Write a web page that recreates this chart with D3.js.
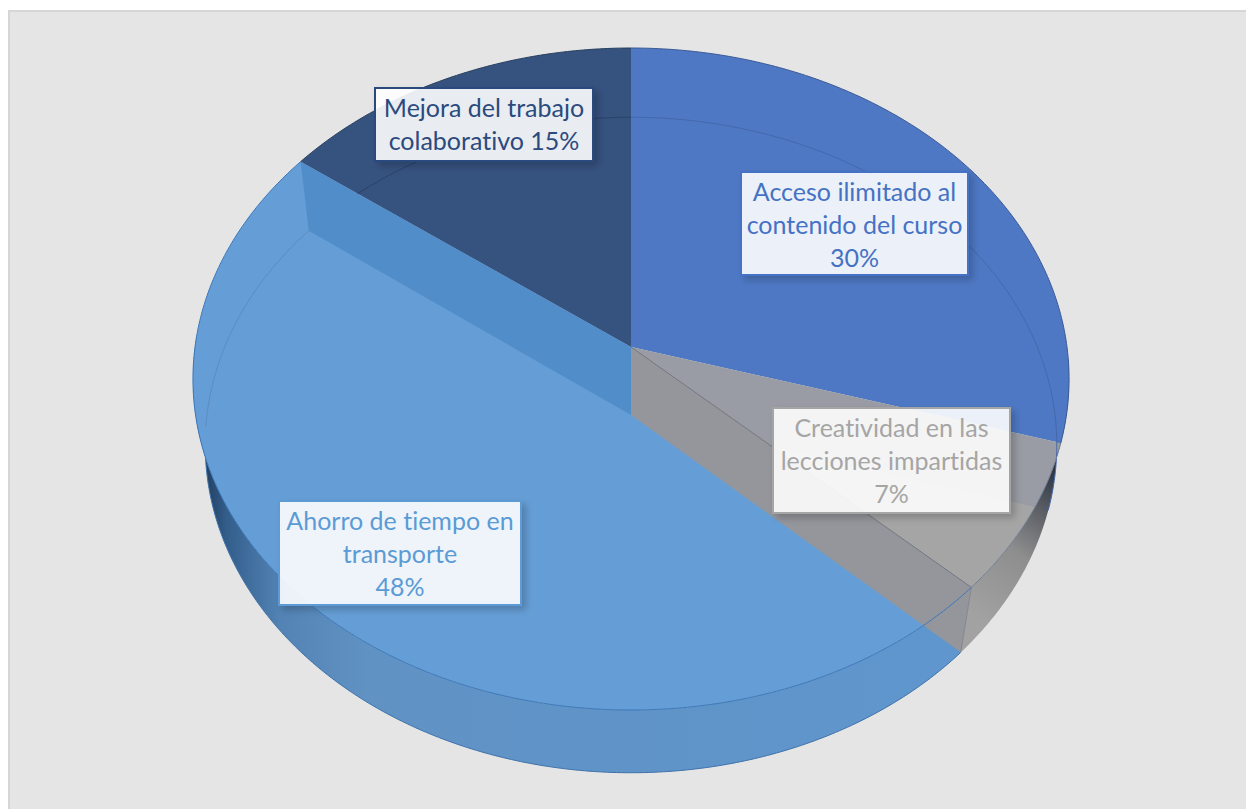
<!DOCTYPE html>
<html>
<head>
<meta charset="utf-8">
<script src="https://cdn.jsdelivr.net/npm/d3@7"></script>
<style>
  html, body { margin: 0; padding: 0; background: #fff; }
  svg { display: block; }
  text { font-family: Lato, "Open Sans", sans-serif; font-size: 25px; text-anchor: middle; font-variant-ligatures: none; }
</style>
</head>
<body>
<div id="chart"></div>
<script>
// clockwise from 12 o'clock, same order as the original
const categories = ["Acceso ilimitado al contenido del curso", "Creatividad en las lecciones impartidas", "Ahorro de tiempo en transporte", "Mejora del trabajo colaborativo"];
const percents = [29.6, 7.4, 48.2, 14.8];
const labelLines = [
  ["Acceso ilimitado al", "contenido del curso", "30%"],
  ["Creatividad en las", "lecciones impartidas", "7%"],
  ["Ahorro de tiempo en", "transporte", "48%"],
  ["Mejora del trabajo", "colaborativo 15%"]
];
const topColors = ["#4e78c4", "#a5a5a6", "#659ed6", "#36527f"];
const textColors = ["#4472c4", "#a5a5a5", "#5b9bd5", "#2b4a7e"];

// label boxes: x0, y0, x1, y1
const labelBoxes = [[741, 172, 968, 275], [773, 408, 1010, 513], [279, 501, 521, 605], [375, 88, 593, 161]];

const width = 1246, height = 809;

const svg = d3.select("#chart").append("svg")
  .attr("width", width)
  .attr("height", height);

const defs = svg.append("defs");

// side wall shading
function sideGradient(id, x1, y1, x2, y2, stops) {
  defs.append("linearGradient")
    .attr("id", id)
    .attr("gradientUnits", "userSpaceOnUse")
    .attr("x1", x1).attr("x2", x2).attr("y1", y1).attr("y2", y2)
    .selectAll("stop")
    .data(stops)
    .join("stop")
    .attr("offset", d => d[0])
    .attr("stop-color", d => d[1]);
}
sideGradient("blueSide", 192, 0, 1069, 0, [[0.01, "#203a58"], [0.04, "#335e8c"], [0.1, "#5283b4"], [0.2, "#6192c4"], [1, "#5e97cf"]]);
sideGradient("graySide", 965, 610, 1062, 470, [[0, "#a2a2a2"], [0.45, "#8e8e8e"], [0.72, "#5f6167"], [1, "#27303f"]]);

// drop shadow outside the box only, so the see-through fill stays clean
defs.append("filter")
  .attr("id", "shadow")
  .attr("x", "-10%").attr("y", "-15%").attr("width", "125%").attr("height", "140%")
  .call(f => {
    f.append("feGaussianBlur").attr("in", "SourceAlpha").attr("stdDeviation", 3.5).attr("result", "blur");
    f.append("feOffset").attr("in", "blur").attr("dx", 4).attr("dy", 4).attr("result", "off");
    f.append("feFlood").attr("flood-color", "#000").attr("flood-opacity", 0.22);
    f.append("feComposite").attr("in2", "off").attr("operator", "in").attr("result", "col");
    f.append("feComposite").attr("in", "col").attr("in2", "SourceAlpha").attr("operator", "out").attr("result", "outer");
    const m = f.append("feMerge");
    m.append("feMergeNode").attr("in", "outer");
    m.append("feMergeNode").attr("in", "SourceGraphic");
  });

// background panel, runs off the right and bottom of the picture
svg.append("rect")
  .attr("x", 9).attr("y", 11)
  .attr("width", width).attr("height", height)
  .attr("fill", "#e5e5e5")
  .attr("stroke", "#d6d6d6")
  .attr("stroke-width", 2);

// angles from the data
const pie = d3.pie().sort(null).startAngle(0).endAngle(2 * Math.PI);
const slices = pie(percents);

// perspective projection of the unit circle, for the top face and for the floor
const topFace = { cx: 631, cy: 347, r: 436, s: 327.9, k: -0.0967 };
const floorFace = { cx: 631, cy: 415, r: 424, s: 325, k: -0.0915 };

function project(face, angle, radius) {
  const u = radius * Math.sin(angle), v = -radius * Math.cos(angle);
  const w = 1 + face.k * v;
  return [face.cx + face.r * u / w, face.cy + face.s * v / w];
}
function rim(face, a0, a1) {
  const n = Math.max(2, Math.ceil(Math.abs(a1 - a0) / 0.01));
  return d3.range(n + 1).map(i => project(face, a0 + (a1 - a0) * i / n, 1));
}
function wall(angle) {
  return [project(topFace, angle, 0), project(topFace, angle, 1), project(floorFace, angle, 1), project(floorFace, angle, 0)];
}
function face(d) {
  return [project(topFace, 0, 0)].concat(rim(topFace, d.startAngle, d.endAngle));
}

const line = d3.line();
const closed = pts => line(pts) + "Z";
const deg = d => d * Math.PI / 180;

const sideG = svg.append("g");
const topG = svg.append("g");
const wallG = svg.append("g");
const edgeG = svg.append("g");

const [sAcceso, sCrea, sAhorro, sMejora] = slices;

// outer side walls
sideG.append("path")
  .attr("d", closed(rim(topFace, sAhorro.startAngle, deg(272)).concat(rim(floorFace, deg(272), sAhorro.startAngle))))
  .attr("fill", "url(#blueSide)");
sideG.append("path")
  .attr("d", closed(rim(topFace, deg(92), sCrea.endAngle).concat(rim(floorFace, sCrea.endAngle, deg(92)))))
  .attr("fill", "url(#graySide)");
sideG.append("path")
  .attr("d", line(rim(floorFace, sAhorro.startAngle, deg(272))))
  .attr("fill", "none")
  .attr("stroke", "#3f72ab")
  .attr("stroke-width", 1);

// top faces
topG.selectAll("path")
  .data(slices)
  .join("path")
  .attr("d", d => closed(face(d)))
  .attr("fill", (d, i) => topColors[i]);

defs.append("clipPath").attr("id", "creaClip")
  .append("path").attr("d", closed(face(sCrea)));
defs.append("clipPath").attr("id", "mejoraClip")
  .append("path").attr("d", closed(face(sMejora)));

// the 30% wall seen through the grey face
wallG.append("path")
  .attr("d", closed(wall(sCrea.startAngle)))
  .attr("fill", "#8f95a2")
  .attr("fill-opacity", 0.55)
  .attr("clip-path", "url(#creaClip)");

// radial walls: grey one at the end of the 7% slice, blue one at the end of the 48% slice
wallG.append("path")
  .attr("d", closed(wall(sCrea.endAngle)))
  .attr("fill", "#94969c");
wallG.append("path")
  .attr("d", closed(wall(sAhorro.endAngle)))
  .attr("fill", "#518dc9");

// thin floor circle showing through the top faces
function thin(pts, color) {
  return edgeG.append("path")
    .attr("d", line(pts))
    .attr("fill", "none")
    .attr("stroke", color)
    .attr("stroke-width", 1);
}
thin(rim(floorFace, 0, sAcceso.endAngle), "#4468ac");
thin(rim(floorFace, sMejora.startAngle, 2 * Math.PI), "#2a4369").attr("clip-path", "url(#mejoraClip)");
thin(rim(floorFace, deg(268), sAhorro.endAngle), "#5a8dc2");
thin([project(floorFace, sCrea.endAngle, 1), project(topFace, sCrea.endAngle, 1)], "#85878c");
thin([project(topFace, sCrea.endAngle, 0), project(topFace, sCrea.endAngle, 1)], "#75777c");

// rim outlines
thin(rim(topFace, 0, sAcceso.endAngle), "#3a5a96");
thin(rim(topFace, sCrea.startAngle, sCrea.endAngle), "#6f7f95");
thin(rim(topFace, sAhorro.startAngle, sAhorro.endAngle), "#3d78b8");
thin(rim(topFace, sMejora.startAngle, sMejora.endAngle), "#27405f");

// labels
const labels = svg.append("g").selectAll("g")
  .data(categories)
  .join("g");

labels.append("rect")
  .attr("x", (d, i) => labelBoxes[i][0])
  .attr("y", (d, i) => labelBoxes[i][1])
  .attr("width", (d, i) => labelBoxes[i][2] - labelBoxes[i][0])
  .attr("height", (d, i) => labelBoxes[i][3] - labelBoxes[i][1])
  .attr("fill", "#fff")
  .attr("fill-opacity", 0.89)
  .attr("stroke", (d, i) => textColors[i])
  .attr("stroke-width", 2)
  .attr("filter", "url(#shadow)");

labels.each(function(d, i) {
  const b = labelBoxes[i];
  d3.select(this).selectAll("text")
    .data(labelLines[i])
    .join("text")
    .attr("x", (b[0] + b[2]) / 2)
    .attr("y", (t, j) => b[1] + 29 + j * 33)
    .attr("fill", textColors[i])
    .text(t => t);
});
</script>
</body>
</html>
